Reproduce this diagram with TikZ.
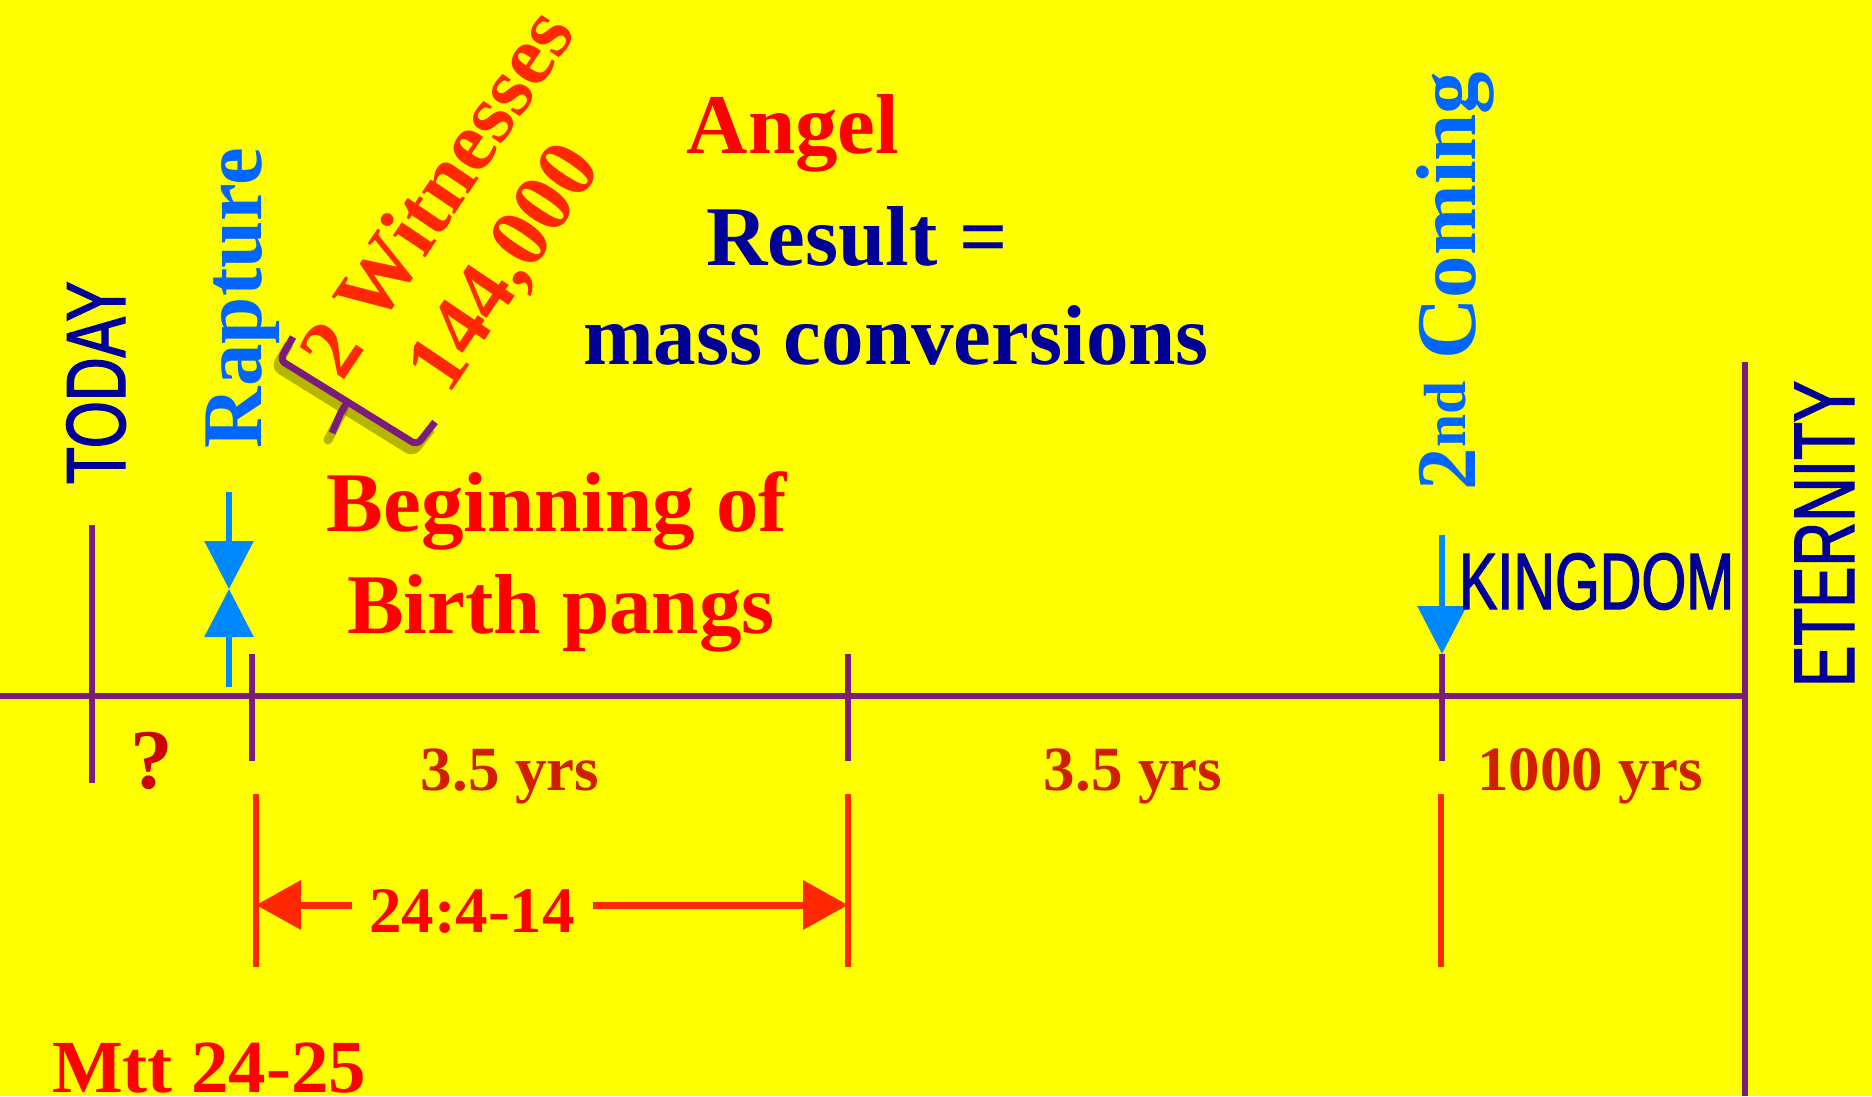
\documentclass[tikz,border=0pt]{standalone}
\usepackage{fontspec}
\setmainfont{Liberation Serif}
\newfontfamily\narrowsans[FakeStretch=0.72,FakeBold=1.5]{Liberation Sans}
\usetikzlibrary{arrows.meta}
\definecolor{bgyellow}{RGB}{255,255,0}
\definecolor{purp}{RGB}{123,27,123}
\definecolor{navyc}{RGB}{0,0,150}
\definecolor{skyb}{RGB}{0,102,255}
\definecolor{arrb}{RGB}{0,136,255}
\definecolor{orred}{RGB}{255,40,0}
\definecolor{purered}{RGB}{255,0,0}
\definecolor{darkred}{RGB}{210,30,0}
\definecolor{qred}{RGB}{204,0,0}
\definecolor{shadowc}{RGB}{110,110,0}
\tikzset{
  txt/.style={inner sep=0pt, outer sep=0pt},
  serifbig/.style={txt, font=\bfseries\fontsize{85}{100}\selectfont},
  yrs/.style={txt, font=\bfseries\fontsize{63}{75}\selectfont, text=darkred},
  sansbig/.style={txt, font=\narrowsans\fontsize{84}{100}\selectfont, text=navyc},
  purpline/.style={draw=purp, line width=6pt},
  redline/.style={draw=orred, line width=6pt},
  bluearrow/.style={draw=arrb, line width=6pt, -{Triangle[length=48pt,width=48pt]}, fill=arrb},
  redarrow/.style={draw=orred, line width=7pt, -{Triangle[length=45pt,width=48pt]}, fill=orred},
}
\begin{document}
\begin{tikzpicture}[x=1pt,y=-1pt]
\useasboundingbox (0,0) rectangle (1872,1096);
\fill[bgyellow] (0,0) rectangle (1872,1096);

% timeline
\coordinate (tlL) at (0,696);
\coordinate (tlR) at (1745,696);
\coordinate (eTop) at (1745,362);
\coordinate (eBot) at (1745,1096);
\draw[purpline] (tlL) -- (tlR);
\draw[purpline] (eTop) -- (eBot);

% ticks
\coordinate (t0a) at (92,525); \coordinate (t0b) at (92,783);
\coordinate (t1a) at (252,654); \coordinate (t1b) at (252,761);
\coordinate (t2a) at (848,654); \coordinate (t2b) at (848,761);
\coordinate (t3a) at (1442,654); \coordinate (t3b) at (1442,761);
\draw[purpline] (t0a) -- (t0b);
\draw[purpline] (t1a) -- (t1b);
\draw[purpline] (t2a) -- (t2b);
\draw[purpline] (t3a) -- (t3b);

% red verticals
\coordinate (r1a) at (256,794); \coordinate (r1b) at (256,967);
\coordinate (r2a) at (848,794); \coordinate (r2b) at (848,967);
\coordinate (r3a) at (1441,794); \coordinate (r3b) at (1441,967);
\draw[redline] (r1a) -- (r1b);
\draw[redline] (r2a) -- (r2b);
\draw[redline] (r3a) -- (r3b);

% red double arrow
\node[txt, font=\bfseries\fontsize{65}{75}\selectfont, text=purered, anchor=base] (ref) at (472,932) {24:4-14};
\coordinate (laS) at (352,905); \coordinate (laE) at (256,905);
\coordinate (raS) at (593,905); \coordinate (raE) at (848,905);
\draw[redarrow] (laS) -- (laE);
\draw[redarrow] (raS) -- (raE);

% blue arrows (rapture)
\coordinate (bA1) at (229,492); \coordinate (bTip) at (229,589); \coordinate (bA2) at (229,687);
\draw[bluearrow] (bA1) -- (bTip);
\draw[bluearrow] (bA2) -- (bTip);
% 2nd coming arrow
\coordinate (cA) at (1442,535); \coordinate (cTip) at (1442,654);
\draw[bluearrow] (cA) -- (cTip);

% vertical labels
\node[sansbig, rotate=90, anchor=base west] (today) at (125,484) {TODAY};
\node[serifbig, text=skyb, rotate=90, anchor=base west] (rapture) at (261,448) {Rapture};
\node[serifbig, text=skyb, rotate=90, anchor=base west] (coming) at (1475,490) {2\textsuperscript{nd} Coming};
\node[sansbig, font=\narrowsans\fontsize{86}{100}\selectfont, rotate=90, anchor=base west] (eternity) at (1854,687) {ETERNITY};
\node[sansbig, font=\narrowsans\fontsize{80}{100}\selectfont, anchor=base west] (kingdom) at (1459,609) {KINGDOM};

% slanted labels
\node[serifbig, text=orred, rotate=56, anchor=base west] (witn) at (342,382) {2 Witnesses};
\node[serifbig, text=orred, rotate=56, anchor=base west] (num) at (448,396) {144,000};

% bracket with shadow
\draw[shadowc, opacity=0.5, line width=9pt, rounded corners=6pt, line join=round]
  ([shift={(-4,7)}]293,337) -- ([shift={(-4,7)}]280,360) -- ([shift={(-4,7)}]417,445) -- ([shift={(-4,7)}]435,422);
\draw[shadowc, opacity=0.5, line width=9pt, line cap=round]
  ([shift={(-4,7)}]348,402) -- ([shift={(-4,7)}]332,433);
\coordinate (bk1) at (293,337); \coordinate (bk2) at (280,360);
\coordinate (bkm) at (348,402); \coordinate (bks) at (332,433);
\coordinate (bk3) at (417,445); \coordinate (bk4) at (435,422);
\draw[purp, line width=7pt, rounded corners=6pt, line join=round] (bk1) -- (bk2) -- (bk3) -- (bk4);
\draw[purp, line width=7pt, rounded corners=5pt] (bkm) -- ++(-6,8) -- (bks);

% horizontal labels
\node[serifbig, text=purered, anchor=base] (angel) at (793,153) {Angel};
\node[serifbig, text=navyc, anchor=base] (result) at (857,265) {Result =};
\node[serifbig, text=navyc, anchor=base] (mass) at (896,364) {mass conversions};
\node[serifbig, text=purered, anchor=base] (begin) at (557,531) {Beginning of};
\node[serifbig, text=purered, anchor=base] (birth) at (561,633) {Birth pangs};

\node[serifbig, text=qred, anchor=base] (q) at (152,788) {?};
\node[yrs, anchor=base] (y1) at (510,790) {3.5 yrs};
\node[yrs, anchor=base] (y2) at (1133,790) {3.5 yrs};
\node[yrs, anchor=base] (y3) at (1590,790) {1000 yrs};

\node[txt, font=\bfseries\fontsize{75}{90}\selectfont, text=purered, anchor=base west] (mtt) at (52,1092) {Mtt 24-25};
\end{tikzpicture}
\end{document}
